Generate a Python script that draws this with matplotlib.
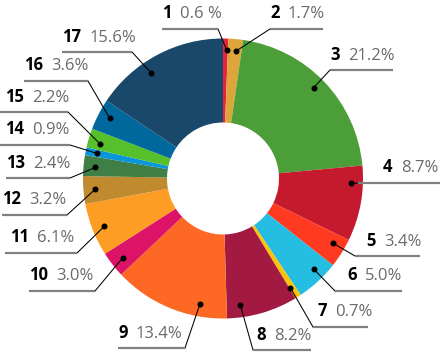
import numpy as np
import matplotlib.pyplot as plt

plt.rcParams['font.family'] = ['Open Sans', 'Noto Sans', 'DejaVu Sans']

goals = [str(i) for i in range(1, 18)]
shares = [0.6, 1.7, 21.2, 8.7, 3.4, 5.0, 0.7, 8.2, 13.4, 3.0, 6.1, 3.2, 2.4, 0.9, 2.2, 3.6, 15.6]
pct_text = ['0.6 %', '1.7%', '21.2%', '8.7%', '3.4%', '5.0%', '0.7%', '8.2%', '13.4%',
            '3.0%', '6.1%', '3.2%', '2.4%', '0.9%', '2.2%', '3.6%', '15.6%']
colors = ['#E5243B', '#DDA63A', '#4C9F38', '#C5192D', '#FF3A21', '#26BDE2', '#FCC30B',
          '#A21942', '#FD6925', '#DD1367', '#FD9D24', '#BF8B2E', '#3F7E44', '#0A97D9',
          '#56C02B', '#00689D', '#19486A']

# label layout in pixels (y down)
lab_x = [162, 270, 330, 383, 366, 347, 317, 256, 118, 29, 10, 2, 6, 5, 5, 24, 62]
line_y = [29, 29, 70, 183, 256, 291, 327, 350, 348, 291, 253, 215, 178, 145, 112, 81, 52]
line_x0 = [162, 270, 330, 358, 355, 335, 313, 253, 118, 29, 5, 2, 6, 0, 0, 24, 62]
line_x1 = [218, 323, 393, 440, 420, 402, 368, 311, 185, 95, 77, 67, 70, 70, 68, 88, 132]
right_side = [False, True, True, True, True, True, True, True,
              False, False, False, False, False, False, False, False, False]
# where the dot sits inside each slice (0 = start, 1 = end)
anchor = [0.79, 0.6, 0.48, 0.24, 0.36, 0.37, 0.8, 0.79, 0.25, 0.46, 0.48, 0.5, 0.46, 0.5, 0.37, 0.55, 0.39]

cx, cy, R, r_in = 223, 178.5, 140, 56

fig = plt.figure(figsize=(4.4, 3.52), dpi=100)
ax = fig.add_axes([0, 0, 1, 1])
# y axis runs downward, so counterclock=True turns clockwise on screen
ax.pie(shares, colors=colors, startangle=-90, counterclock=True,
       center=(cx, cy), radius=R,
       wedgeprops=dict(width=R - r_in, linewidth=0))
ax.set_xlim(0, 440)
ax.set_ylim(352, 0)
ax.axis('off')

total = sum(shares)
cum = np.concatenate([[0], np.cumsum(shares)]) / total * 360
for i in range(len(shares)):
    th = np.radians(cum[i] + anchor[i] * (cum[i + 1] - cum[i]))
    dx = cx + 0.915 * R * np.sin(th)
    dy = cy - 0.915 * R * np.cos(th)
    ex = line_x0[i] if right_side[i] else line_x1[i]
    ax.plot([dx, ex], [dy, line_y[i]], color='black', lw=0.75, zorder=3)
    ax.plot(dx, dy, 'o', color='black', ms=3.3, zorder=4)
    ax.plot([line_x0[i], line_x1[i]], [line_y[i], line_y[i]], color='#808080',
            lw=1.6, solid_capstyle='butt', zorder=3)
    ax.text(lab_x[i], line_y[i] - 10.5, goals[i], fontsize=12, fontweight='bold',
            color='black', va='baseline', ha='left')
    ax.text(lab_x[i] + len(goals[i]) * 9.4 + 8.5, line_y[i] - 10.5, pct_text[i],
            fontsize=12, color='#6a6a6a', va='baseline', ha='left')

fig.savefig('out.png', dpi=100)
